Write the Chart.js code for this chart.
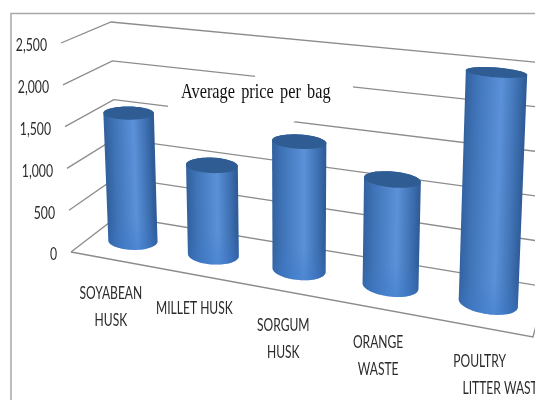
<!DOCTYPE html>
<html>
<head>
<meta charset="utf-8">
<title>Average price per bag</title>
<script src="https://cdn.jsdelivr.net/npm/chart.js@4"></script>
<style>
  html, body { margin: 0; padding: 0; background: #fff; overflow: hidden; }
  canvas { display: block; }
</style>
</head>
<body>
<canvas id="barchart" width="535" height="400"></canvas>
<script>
const categories = [['SOYABEAN', 'HUSK'], ['MILLET HUSK'], ['SORGUM', 'HUSK'], ['ORANGE', 'WASTE'], ['POULTRY', 'LITTER WASTE']];
const prices = [1560, 1060, 1470, 1180, 2470];
const tickValues = [0, 500, 1000, 1500, 2000, 2500];
const chartTitle = 'Average price per bag';

// corners of the 3d box on the page: front/back, left/right, floor/top
const box = {
  frontLeft: [[71, 252], [61, 43]],
  frontRight: [[533, 337], [546, 85]],
  backLeft: [[118, 216], [111, 22]],
  backRight: [[546, 287], [554, 64]]
};
const perspective = 0.85;

function mix(a, b, t) {
  return [a[0] + (b[0] - a[0]) * t, a[1] + (b[1] - a[1]) * t];
}

// u along the categories, v up the value axis, d from front (0) to back (1)
function project(u, v, d) {
  const s = u * perspective / (1 - u + u * perspective);
  const front = mix(mix(box.frontLeft[0], box.frontLeft[1], v), mix(box.frontRight[0], box.frontRight[1], v), s);
  const back = mix(mix(box.backLeft[0], box.backLeft[1], v), mix(box.backRight[0], box.backRight[1], v), s);
  return mix(front, back, d);
}

function polyline(ctx, pts) {
  pts.forEach((p, i) => i ? ctx.lineTo(p[0], p[1]) : ctx.moveTo(p[0], p[1]));
}

// walk round a closed ring of points from index a forward to index b
function arc(pts, a, b) {
  const out = [];
  for (let i = a; ; i = (i + 1) % pts.length) {
    out.push(pts[i]);
    if (i === b) return out;
  }
}

// canvas text squeezed sideways, the installed fonts run wider than the labels need
function narrowText(ctx, text, x, y, squeeze) {
  ctx.save();
  ctx.translate(x, y);
  ctx.scale(squeeze, 1);
  ctx.fillText(text, 0, 0);
  ctx.restore();
}

const box3d = {
  id: 'box3d',
  beforeDatasetsDraw(chart) {
    const { ctx, chartArea: area, scales } = chart;
    ctx.save();
    // outer frame
    ctx.strokeStyle = '#a8a8a8';
    ctx.lineWidth = 1.5;
    ctx.beginPath();
    polyline(ctx, [[11, 400], [11, 13.5], [535, 13.5]]);
    ctx.stroke();

    // gridlines: along the left wall and the back wall
    ctx.strokeStyle = '#8c8c8c';
    ctx.lineWidth = 1.3;
    tickValues.forEach(val => {
      const v = (area.bottom - scales.y.getPixelForValue(val)) / area.height;
      ctx.beginPath();
      polyline(ctx, [project(0, v, 0), project(0, v, 1), project(1, v, 1)]);
      ctx.stroke();
    });
    // floor edges
    ctx.beginPath();
    polyline(ctx, [project(0, 0, 0), project(1, 0, 0), project(1, 0, 1)]);
    ctx.stroke();

    // white patch behind the title
    ctx.fillStyle = '#fff';
    ctx.beginPath();
    polyline(ctx, [[255, 70], [353, 70], [353, 88], [292, 123], [292, 130], [168, 130], [168, 100], [255, 80]]);
    ctx.fill();
    ctx.restore();
  },
  afterDatasetsDraw(chart) {
    const { ctx, chartArea: area, scales } = chart;
    const bars = chart.getDatasetMeta(0).data;
    ctx.save();

    bars.forEach(bar => {
      const u = (bar.x - area.left) / area.width;
      const r = bar.width / 2 / area.width;
      const top = (area.bottom - bar.y) / area.height;
      const rd = 0.22;
      const angles = Array.from({ length: 72 }, (_, i) => i / 72 * Math.PI * 2);
      const ring = v => angles.map(a => project(u + r * Math.cos(a), v, 0.5 + rd * Math.sin(a)));
      const lower = ring(0);
      const upper = ring(top);

      // silhouette: front half of the base, back half of the top, joined at their widest points
      const widest = pts => {
        const xs = pts.map(p => p[0]);
        return [xs.indexOf(Math.min(...xs)), xs.indexOf(Math.max(...xs))];
      };
      const [lowL, lowR] = widest(lower);
      const [upL, upR] = widest(upper);
      const outline = arc(lower, lowL, lowR).concat(arc(upper, upR, upL));

      // shade across the cylinder, square to its leaning axis
      const foot = project(u, 0, 0.5);
      const head = project(u, top, 0.5);
      const len = Math.hypot(head[0] - foot[0], head[1] - foot[1]);
      const halfWidth = (project(u + r, top / 2, 0.5)[0] - project(u - r, top / 2, 0.5)[0]) / 2;
      const nx = (foot[1] - head[1]) / len * halfWidth;
      const ny = (head[0] - foot[0]) / len * halfWidth;
      const mid = mix(foot, head, 0.5);
      const grad = ctx.createLinearGradient(mid[0] - nx, mid[1] - ny, mid[0] + nx, mid[1] + ny);
      grad.addColorStop(0, '#33629f');
      grad.addColorStop(0.18, '#3f74b8');
      grad.addColorStop(0.6, '#5b91d8');
      grad.addColorStop(0.85, '#3f72b4');
      grad.addColorStop(1, '#305c98');
      ctx.fillStyle = grad;
      ctx.beginPath();
      polyline(ctx, outline);
      ctx.closePath();
      ctx.fill();

      // brighter rim where the cylinder meets the floor
      const rim = ctx.createLinearGradient(0, foot[1] - 22, 0, foot[1] + 9);
      rim.addColorStop(0, 'rgba(58,120,205,0)');
      rim.addColorStop(1, 'rgba(58,120,205,0.4)');
      ctx.fillStyle = rim;
      ctx.fill();

      ctx.fillStyle = '#2f5c92';
      ctx.beginPath();
      polyline(ctx, upper);
      ctx.closePath();
      ctx.fill();
    });

    // value labels beside the front edge of the left wall
    ctx.fillStyle = '#2b2b2b';
    ctx.font = '18px Lato, "Liberation Sans", sans-serif';
    ctx.textAlign = 'right';
    ctx.textBaseline = 'middle';
    tickValues.forEach(val => {
      const v = (area.bottom - scales.y.getPixelForValue(val)) / area.height;
      const p = project(0, v, 0);
      narrowText(ctx, val.toLocaleString('en-US'), p[0] - 14, p[1] + 2.5, 0.68);
    });

    // category labels follow the front floor edge
    ctx.textAlign = 'center';
    ctx.font = '17px Lato, "Liberation Sans", sans-serif';
    categories.forEach((lines, i) => {
      const u = (scales.x.getPixelForValue(i) - area.left) / area.width;
      const p = project(u, 0, 0);
      lines.forEach((line, n) => {
        // the long second line of the last label sits further right
        const shift = i === 4 && n === 1 ? 24 : 0;
        narrowText(ctx, line, p[0] + shift, p[1] + 34 + n * 27, 0.71);
      });
    });

    // title sits inside the plot
    ctx.fillStyle = '#111';
    ctx.font = '22px "Liberation Serif", serif';
    ctx.wordSpacing = '3px';
    ctx.textAlign = 'left';
    narrowText(ctx, chartTitle, 181, 92, 0.74);
    ctx.restore();
  }
};

new Chart(document.getElementById('barchart'), {
  type: 'bar',
  data: {
    labels: categories,
    datasets: [{
      label: chartTitle,
      data: prices,
      backgroundColor: 'transparent',
      barPercentage: 0.58,
      categoryPercentage: 1
    }]
  },
  options: {
    responsive: false,
    animation: false,
    layout: { padding: { left: 60, right: 0, top: 40, bottom: 147 } },
    plugins: { legend: { display: false }, title: { display: false }, tooltip: { enabled: false } },
    scales: {
      x: { display: false },
      y: { display: false, min: 0, max: 2500, ticks: { stepSize: 500 } }
    }
  },
  plugins: [box3d]
});
</script>
</body>
</html>
